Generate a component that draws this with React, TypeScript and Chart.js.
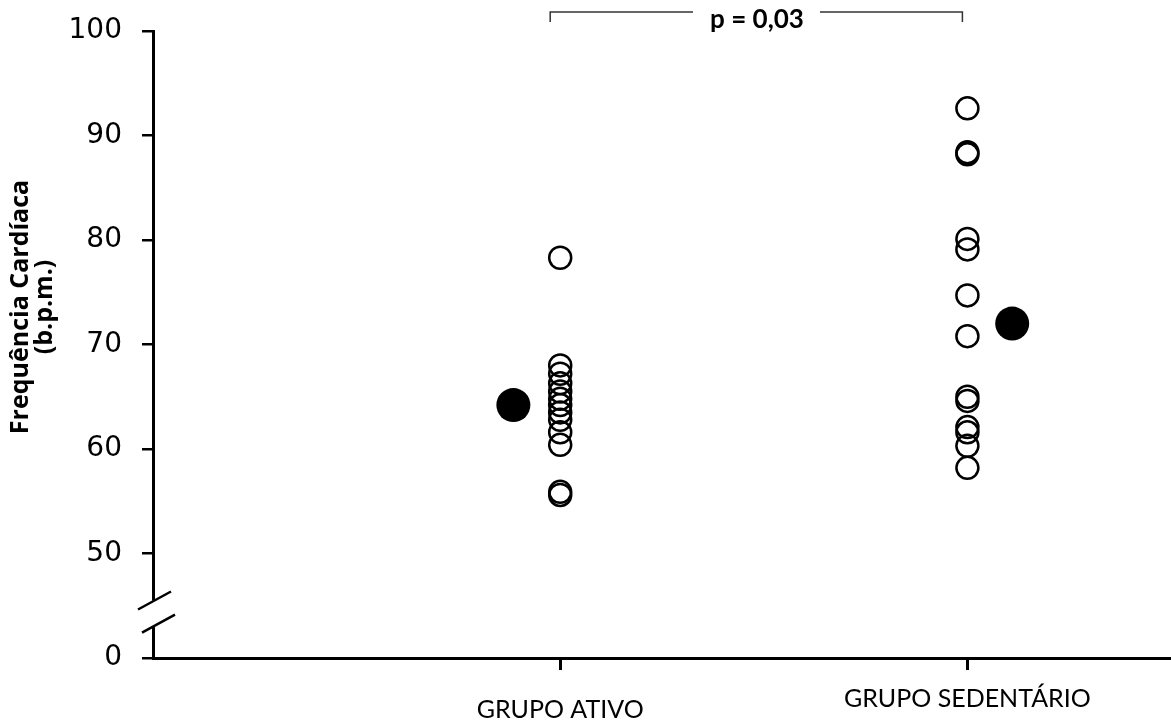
import React, { useEffect, useRef } from "react";
import { Chart, registerables } from "chart.js";

Chart.register(...registerables);

const categories = ["GRUPO ATIVO", "GRUPO SEDENTÁRIO"];
const categoryX = [1, 2];
const ativoValues = [78.3, 68.0, 67.2, 66.3, 65.5, 64.8, 64.2, 63.5, 62.8, 61.6, 60.4, 55.9, 55.6];
const sedentarioValues = [92.6, 88.4, 88.2, 80.1, 79.1, 74.7, 70.8, 65.0, 64.6, 62.1, 61.6, 60.3, 58.2];
const meanX = [0.885, 2.11];
const meanValues = [64.2, 72.0];
const yTickValues = [40, 50, 60, 70, 80, 90, 100];
const yTickLabels = ["0", "50", "60", "70", "80", "90", "100"];
const yTitle = ["Frequência Cardíaca", "(b.p.m.)"];
const pText = "p = 0,03";

const annotations = {
  id: "annotations",
  afterDraw(chart: any) {
    const ctx = chart.ctx;
    const xs = chart.scales.x;
    const ys = chart.scales.y;
    const area = chart.chartArea;
    ctx.save();
    // axis break
    const gTop = ys.getPixelForValue(45.5);
    const gBot = ys.getPixelForValue(43.0);
    ctx.fillStyle = "#fff";
    ctx.fillRect(area.left - 3, gTop, 6, gBot - gTop);
    ctx.strokeStyle = "#000";
    ctx.lineWidth = 2.5;
    ctx.beginPath();
    ctx.moveTo(area.left - 15, gTop + 9);
    ctx.lineTo(area.left + 18, gTop - 9);
    ctx.moveTo(area.left - 11, gBot + 6);
    ctx.lineTo(area.left + 22, gBot - 12);
    ctx.stroke();

    // y title
    ctx.fillStyle = "#000";
    ctx.font = "bold 25px 'Open Sans'";
    ctx.textAlign = "center";
    ctx.textBaseline = "middle";
    ctx.translate(33, 307);
    ctx.rotate(-Math.PI / 2);
    ctx.fillText(yTitle[0], 0, -12);
    ctx.fillText(yTitle[1], 0, 12);
    ctx.setTransform(1, 0, 0, 1, 0, 0);

    // category labels
    ctx.font = "25px Lato";
    ctx.textBaseline = "middle";
    const offs = [52, 41];
    categories.forEach((c, i) => {
      ctx.fillText(c, xs.getPixelForValue(categoryX[i]), area.bottom + offs[i]);
    });

    // p bracket
    const l = xs.getPixelForValue(categoryX[0]) - 10;
    const r = xs.getPixelForValue(categoryX[1]) - 5;
    const yb = 12;
    ctx.strokeStyle = "#333";
    ctx.lineWidth = 1.5;
    ctx.beginPath();
    ctx.moveTo(l, yb + 10);
    ctx.lineTo(l, yb);
    ctx.lineTo(693, yb);
    ctx.moveTo(820, yb);
    ctx.lineTo(r, yb);
    ctx.lineTo(r, yb + 10);
    ctx.stroke();
    ctx.font = "bold 26px Lato";
    ctx.fillStyle = "#000";
    ctx.fillText(pText, 757, 20);
    ctx.restore();
  },
};

export default function App() {
  const ref = useRef<HTMLCanvasElement>(null);
  useEffect(() => {
    const chart = new Chart(ref.current!, {
      type: "scatter",
      data: {
        datasets: [
          {
            data: ativoValues.map((v) => ({ x: categoryX[0], y: v })),
            pointRadius: 11,
            pointBorderWidth: 2.5,
            pointBackgroundColor: "rgba(255,255,255,0)",
            pointBorderColor: "#000",
          },
          {
            data: sedentarioValues.map((v) => ({ x: categoryX[1], y: v })),
            pointRadius: 11,
            pointBorderWidth: 2.5,
            pointBackgroundColor: "rgba(255,255,255,0)",
            pointBorderColor: "#000",
          },
          {
            data: meanValues.map((v, i) => ({ x: meanX[i], y: v })),
            pointRadius: 17,
            pointBorderWidth: 0,
            pointBackgroundColor: "#000",
            pointBorderColor: "#000",
          },
        ],
      },
      options: {
        animation: false,
        responsive: false,
        maintainAspectRatio: false,
        layout: { autoPadding: false, padding: { top: 31, right: 0, left: 0, bottom: 0 } },
        plugins: { legend: { display: false }, tooltip: { enabled: false } },
        scales: {
          x: {
            type: "linear",
            min: 0,
            max: 2.5,
            afterBuildTicks: (s: any) => {
              s.ticks = categoryX.map((v) => ({ value: v }));
            },
            afterFit: (s: any) => {
              s.height = 69;
              s.paddingLeft = 0;
              s.paddingRight = 0;
            },
            ticks: { display: false },
            grid: { display: true, drawOnChartArea: false, drawTicks: true, tickLength: 12, color: "#000", lineWidth: 3 },
            border: { display: true, color: "#000", width: 3 },
          },
          y: {
            type: "linear",
            min: 40,
            max: 100,
            afterBuildTicks: (s: any) => {
              s.ticks = yTickValues.map((v) => ({ value: v }));
            },
            afterFit: (s: any) => {
              s.width = 153;
              s.paddingTop = 0;
              s.paddingBottom = 0;
            },
            ticks: {
              padding: 20,
              color: "#000",
              font: { family: "'DejaVu Sans'", size: 28 },
              callback: (v: any) => yTickLabels[yTickValues.indexOf(v)],
            },
            grid: { display: true, drawOnChartArea: false, drawTicks: true, tickLength: 11, color: "#000", lineWidth: 2.5 },
            border: { display: true, color: "#000", width: 3 },
          },
        },
      },
      plugins: [annotations],
    } as any);
    return () => chart.destroy();
  }, []);
  return (
    <div style={{ position: "fixed", left: 0, top: 0, width: 1171, height: 727, background: "#fff" }}>
      <canvas ref={ref} width={1171} height={727} style={{ width: 1171, height: 727 }} />
    </div>
  );
}
